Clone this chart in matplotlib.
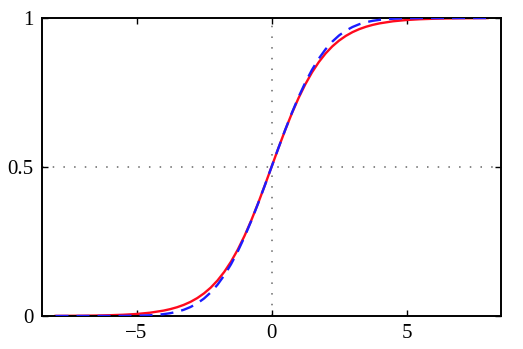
import matplotlib
matplotlib.use("Agg")
import matplotlib.pyplot as plt

# values (logistic curve and dashed approximation)
xVals = [-8, -7.5, -7, -6.5, -6, -5.5, -5, -4.5,
         -4, -3.75, -3.5, -3.25, -3, -2.75, -2.5, -2.25, -2, -1.75, -1.5, -1.25, -1, -0.75, -0.5, -0.25,
         0, 0.25, 0.5, 0.75, 1, 1.25, 1.5, 1.75, 2, 2.25, 2.5, 2.75, 3, 3.25, 3.5, 3.75, 4,
         4.5, 5, 5.5, 6, 6.5, 7, 7.5, 8]
redVals = [0.0003, 0.0006, 0.0009, 0.0015, 0.0025, 0.0041, 0.0067, 0.0110,
           0.0180, 0.0230, 0.0293, 0.0373, 0.0474, 0.0601, 0.0759, 0.0953, 0.1192, 0.1480, 0.1824, 0.2227,
           0.2689, 0.3208, 0.3775, 0.4378,
           0.5, 0.5622, 0.6225, 0.6792, 0.7311, 0.7773, 0.8176, 0.8520, 0.8808, 0.9047, 0.9241, 0.9399,
           0.9526, 0.9627, 0.9707, 0.9770, 0.9820,
           0.9890, 0.9933, 0.9959, 0.9975, 0.9985, 0.9991, 0.9994, 0.9997]
blueVals = [0.0, 0.0, 0.0, 0.0001, 0.0001, 0.0003, 0.0009, 0.0024,
            0.0061, 0.0094, 0.0141, 0.0208, 0.0301, 0.0424, 0.0586, 0.0793, 0.1050, 0.1364, 0.1736, 0.2167,
            0.2654, 0.3192, 0.3770, 0.4377,
            0.5, 0.5623, 0.6230, 0.6808, 0.7346, 0.7833, 0.8264, 0.8636, 0.8950, 0.9207, 0.9414, 0.9576,
            0.9699, 0.9792, 0.9859, 0.9906, 0.9939,
            0.9976, 0.9991, 0.9997, 0.9999, 0.9999, 1.0, 1.0, 1.0]
xTicks = [-5, 0, 5]
yTicks = [0, 0.5, 1]
yTickLabels = ["0", "0.5", "1"]

plt.rcParams.update({"font.family": "Liberation Serif", "font.size": 15})

fig = plt.figure(figsize=(5.23, 3.49), dpi=100)
ax = fig.add_axes([0.0803, 0.0946, 0.8777, 0.8538])

# dotted guide lines
ax.axvline(0, color="#666666", lw=1.1, ls=(0, (1, 6)), zorder=1)
ax.axhline(0.5, color="#666666", lw=1.1, ls=(0, (1, 6)), zorder=1)

ax.plot(xVals, redVals, color="#ff0a1e", lw=1.7, zorder=2)
ax.plot(xVals, blueVals, color="#1c1cff", lw=1.7, ls=(0, (5.5, 3.4)), zorder=3)

ax.set_xlim(-8.5, 8.5)
ax.set_ylim(0, 1)
ax.set_xticks(xTicks)
ax.set_yticks(yTicks)
ax.set_yticklabels(yTickLabels)
ax.tick_params(direction="in", length=4, width=1, top=True, right=True, pad=6)
for s in ax.spines.values():
    s.set_linewidth(1.4)

plt.savefig("out.png", dpi=100)
